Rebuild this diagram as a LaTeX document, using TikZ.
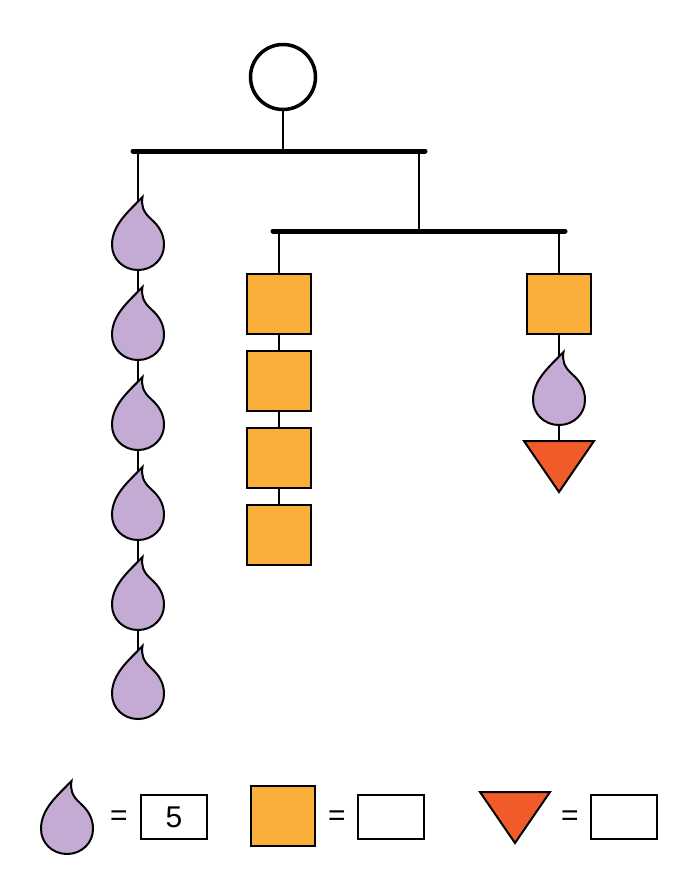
\documentclass[tikz,border=0pt]{standalone}
\usepackage{fontspec}
\setmainfont{Liberation Sans}
\usetikzlibrary{positioning,backgrounds}
\definecolor{dropfill}{HTML}{C3ABD4}
\definecolor{boxfill}{HTML}{FAAF3B}
\definecolor{trifill}{HTML}{F15A29}

\tikzset{
  bar/.style={line width=5pt,line cap=round},
  hang/.style={line width=1.6pt},
  block/.style={draw,line width=1.5pt,fill=boxfill,minimum width=64pt,
    minimum height=60pt,inner sep=0pt},
  answer/.style={draw,line width=1.8pt,minimum width=66pt,minimum height=44pt,
    inner sep=0pt,font=\fontsize{30}{30}\selectfont},
  equals/.style={inner sep=0pt,font=\fontsize{30}{30}\selectfont},
  drop/.pic={
    \draw[line width=2pt,fill=dropfill,miter limit=20] (4.5,-48)
      .. controls (-10,-33) and (-26,-20) .. (-26,0)
      .. controls (-26,14) and (-14.5,25) .. (0,25)
      .. controls (14.5,25) and (26,14) .. (26,0)
      .. controls (26,-11) and (21,-19) .. (13,-26)
      .. controls (5,-33) and (3,-40) .. (4.5,-48) -- cycle;
    \coordinate (-c) at (0,0);
  },
  tri/.pic={
    \draw[line width=2pt,fill=trifill,line join=miter]
      (-35,-25.5) -- (35,-25.5) -- (0,25.5) -- cycle;
    \coordinate (-c) at (0,0);
  }
}

\begin{document}
\begin{tikzpicture}[x=1pt,y=-1pt]
  \useasboundingbox (0,0) rectangle (698,895);
  % ring and bars
  \node[circle,draw,line width=3.5pt,minimum size=65pt,inner sep=0pt] (ring) at (283,77) {};
  \coordinate (tL) at (133,151);
  \coordinate (tR) at (425,151);
  \coordinate (tM) at (419,151);
  \coordinate (bL) at (273,231);
  \coordinate (bR) at (565,231);
  \draw[bar] (tL) -- (tR);
  \draw[bar] (bL) -- (bR);
  \draw[hang] (ring) -- (ring |- tL);
  \draw[hang] (tM) -- (tM |- bL);
  % left string of drops
  \foreach \n/\y in {A/245,B/335,C/425,D/515,E/605,F/694}
    \pic (d\n) at (138,\y) {drop};
  % middle string of blocks
  \node[block] (sq1) at (279,304) {};
  \node[block,below=15.5pt of sq1] (sq2) {};
  \node[block,below=15.5pt of sq2] (sq3) {};
  \node[block,below=15.5pt of sq3] (sq4) {};
  % right string
  \node[block] (sqR) at (559,304) {};
  \pic (dR) at (559,400) {drop};
  \pic (tR1) at (559,466.5) {tri};
  \begin{scope}[on background layer]
    \draw[hang] (dA-c |- tL) -- (dF-c);
    \draw[hang] (sq1 |- bL) -- (sq4);
    \draw[hang] (sqR |- bL) -- (sqR) -- (dR-c) -- (tR1-c);
  \end{scope}
  % legend
  \pic (dK) at (67,829) {drop};
  \node[equals] (eq1) at (119,818) {=};
  \node[answer] (ans1) at (174,817) {5};
  \node[block] (sqK) at (283,816) {};
  \node[equals] (eq2) at (337,818) {=};
  \node[answer] (ans2) at (391,817) {};
  \pic (tK) at (515,817.5) {tri};
  \node[equals] (eq3) at (570,818) {=};
  \node[answer] (ans3) at (624,817) {};
\end{tikzpicture}
\end{document}
